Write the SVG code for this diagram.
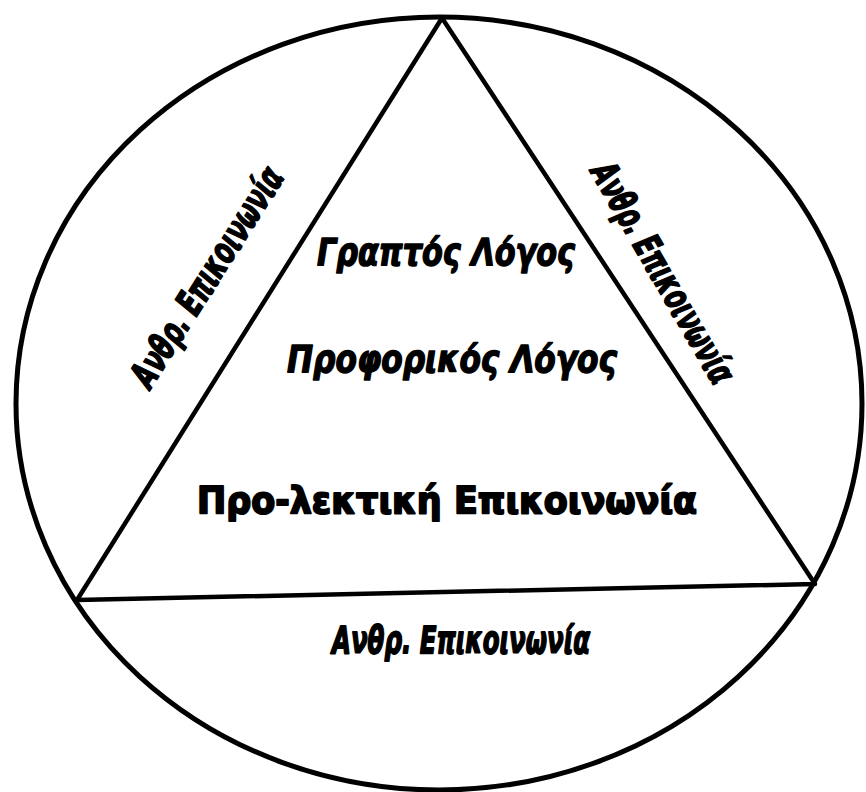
<svg xmlns="http://www.w3.org/2000/svg" width="866" height="792" viewBox="0 0 866 792">
<style>
.shape{fill:none;stroke:#000;stroke-linejoin:round}
.t{font-family:"DejaVu Sans","Liberation Sans",Arial,sans-serif;font-weight:bold;fill:#000;stroke:#000;stroke-width:1.5;stroke-linejoin:round}
.it{font-style:italic}
.lbl{font-size:37px;text-anchor:middle;stroke-width:1.8}
.big{font-size:37px}
.base{font-size:38px;stroke-width:2}
</style>
<rect width="866" height="792" fill="#fff"/>
<g id="outer-circle">
<ellipse class="shape" cx="439" cy="403.5" rx="423" ry="386.5" stroke-width="5"/>
</g>
<g id="triangle">
<polygon class="shape" points="442,18 77,600 815,584" stroke-width="4.5"/>
</g>
<g id="graptos">
<text class="t it big" x="317" y="265" textLength="258" lengthAdjust="spacingAndGlyphs">Γραπτός Λόγος</text>
</g>
<g id="proforikos">
<text class="t it big" x="287" y="372" textLength="330" lengthAdjust="spacingAndGlyphs">Προφορικός Λόγος</text>
</g>
<g id="prolektiki">
<text class="t base" x="197" y="513" textLength="500" lengthAdjust="spacingAndGlyphs">Προ-λεκτική Επικοινωνία</text>
</g>
<g id="label-left">
<text class="t it lbl" transform="translate(217.5,283.5) rotate(-57.6)" x="0" y="0" textLength="252" lengthAdjust="spacingAndGlyphs">Ανθρ. Επικοινωνία</text>
</g>
<g id="label-right">
<text class="t it lbl" transform="translate(652,279) rotate(60)" x="0" y="0" textLength="249" lengthAdjust="spacingAndGlyphs">Ανθρ. Επικοινωνία</text>
</g>
<g id="label-bottom">
<text class="t it lbl" x="461" y="653" textLength="258" lengthAdjust="spacingAndGlyphs">Ανθρ. Επικοινωνία</text>
</g>
</svg>
